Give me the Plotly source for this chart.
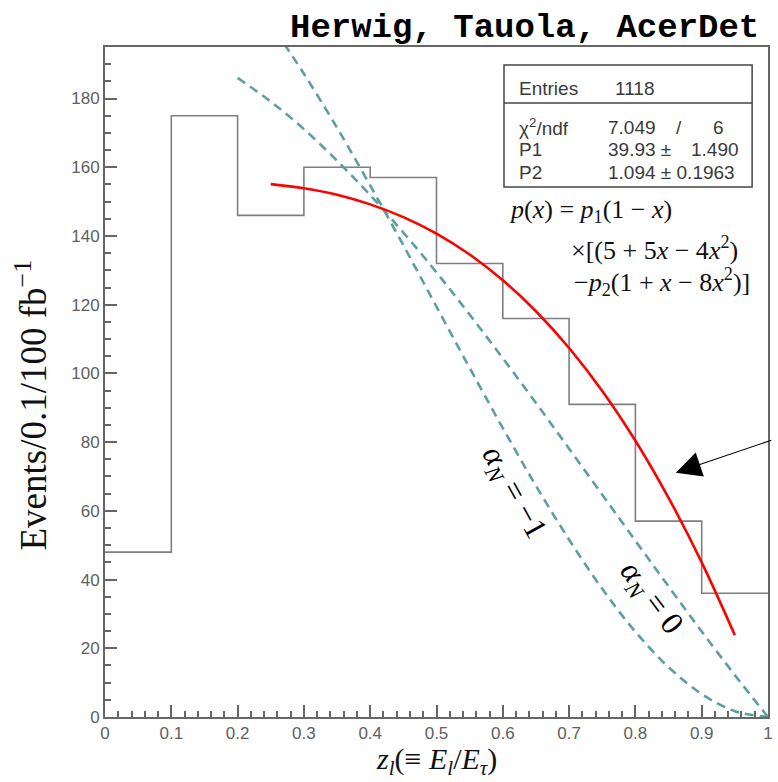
import plotly.graph_objects as go

# ---------------- data ----------------
bin_edges = [0.0, 0.1, 0.2, 0.3, 0.4, 0.5, 0.6, 0.7, 0.8, 0.9, 1.0]
counts = [48, 175, 146, 160, 157, 132, 116, 91, 57, 36]

fit_x = [0.25, 0.30, 0.35, 0.40, 0.45, 0.50, 0.55, 0.60, 0.65, 0.70, 0.75, 0.80, 0.85, 0.90, 0.95]
fit_y = [155.1, 153.9, 152.0, 149.2, 145.5, 140.7, 134.6, 127.1, 118.1, 107.4, 94.9, 80.4, 63.8, 45.0, 23.8]

a0_x = [0.20, 0.25, 0.30, 0.35, 0.40, 0.45, 0.50, 0.55, 0.60, 0.65, 0.70, 0.75, 0.80, 0.85, 0.90, 0.95, 1.00]
a0_y = [186.0, 179.1, 171.1, 161.9, 151.9, 141.0, 129.4, 117.1, 104.4, 91.4, 78.1, 64.7, 51.3, 38.0, 24.9, 12.2, 0.0]

am1_x = [0.27, 0.30, 0.35, 0.40, 0.45, 0.50, 0.55, 0.60, 0.65, 0.70, 0.75, 0.80, 0.85, 0.90, 0.95, 1.00]
am1_y = [196.0, 187.2, 171.5, 154.7, 137.3, 119.4, 101.6, 84.1, 67.3, 51.6, 37.3, 24.8, 14.5, 6.7, 1.7, 0.0]

x_ticks = [0, 0.1, 0.2, 0.3, 0.4, 0.5, 0.6, 0.7, 0.8, 0.9, 1]
y_ticks = [0, 20, 40, 60, 80, 100, 120, 140, 160, 180]

stats_labels = ["Entries", "χ<sup>2</sup>/ndf", "P1", "P2"]
entries = "1118"
chi2, ndf = "7.049", "6"
p1_val, p1_err = "39.93 ±", "1.490"
p2_val = "1.094 ± 0.1963"

# ---------------- figure ----------------
GRAY = "#7f7f7f"
TEAL = "#5f9ea0"
SERIF = "Liberation Serif, Times New Roman, serif"
SANS = "Liberation Sans, Arial, sans-serif"

fig = go.Figure()

fig.add_trace(go.Scatter(
    x=bin_edges, y=counts + [counts[-1]], mode="lines",
    line=dict(color=GRAY, width=1.6, shape="hv"), hoverinfo="skip"))

fig.add_trace(go.Scatter(
    x=a0_x, y=a0_y, mode="lines",
    line=dict(color=TEAL, width=2.6, dash="9px,6px", shape="spline")))
fig.add_trace(go.Scatter(
    x=am1_x, y=am1_y, mode="lines",
    line=dict(color=TEAL, width=2.6, dash="9px,6px", shape="spline")))

fig.add_trace(go.Scatter(
    x=fit_x, y=fit_y, mode="lines",
    line=dict(color="#ff0000", width=2.6, shape="spline")))

axis_common = dict(
    showgrid=False, zeroline=False, showline=True, linecolor="#666666", linewidth=2,
    mirror=True, ticks="inside", ticklen=12, tickwidth=1.5, tickcolor="#666666",
    tickfont=dict(family=SANS, size=17, color="#606060"),
)

fig.update_layout(
    width=778, height=782,
    margin=dict(l=105, r=5, t=47, b=65),
    paper_bgcolor="white", plot_bgcolor="white",
    showlegend=False,
    xaxis=dict(range=[0, 1], tickvals=x_ticks, ticktext=[str(t) for t in x_ticks],
               minor=dict(dtick=0.02, ticks="inside", ticklen=6, tickcolor="#666666", tickwidth=1.5),
               **axis_common),
    yaxis=dict(range=[0, 195], tickvals=y_ticks,
               minor=dict(dtick=5, ticks="inside", ticklen=6, tickcolor="#666666", tickwidth=1.5),
               **axis_common),
)

def px2paper(px, py):
    return (px - 105) / 668.0, (717 - py) / 670.0

annotations = []

# Title
annotations.append(dict(
    xref="paper", yref="paper", x=px2paper(766, 0)[0], y=px2paper(0, 28)[1],
    xanchor="right", yanchor="middle", showarrow=False,
    text="<b>Herwig, Tauola, AcerDet</b>",
    font=dict(family="Liberation Mono, Courier New, monospace", size=34, color="black")))

# Axis titles
annotations.append(dict(
    xref="paper", yref="paper", x=px2paper(30, 0)[0], y=px2paper(0, 405)[1],
    xanchor="center", yanchor="middle", showarrow=False, textangle=-90,
    text="Events/0.1/100 fb<sup>−1</sup>",
    font=dict(family=SERIF, size=37, color="#111111")))
annotations.append(dict(
    xref="paper", yref="paper", x=px2paper(439, 0)[0], y=px2paper(0, 761)[1],
    xanchor="center", yanchor="middle", showarrow=False,
    text="<i>z<sub>l</sub></i>(≡ <i>E<sub>l</sub></i>/<i>E<sub>τ</sub></i>)",
    font=dict(family=SERIF, size=30, color="#111111")))

# Stats box
bx0, by1 = px2paper(507, 65)
bx1, by0 = px2paper(757, 187)
_, ydiv = px2paper(0, 103)
shapes = [
    dict(type="rect", xref="paper", yref="paper", x0=bx0, x1=bx1, y0=by0, y1=by1,
         line=dict(color="#444444", width=1.5), fillcolor="white", layer="above"),
    dict(type="line", xref="paper", yref="paper", x0=bx0, x1=bx1, y0=ydiv, y1=ydiv,
         line=dict(color="#444444", width=1.5), layer="above"),
]
fig.update_layout(shapes=shapes)

sfont = dict(family=SANS, size=19, color="#3a3a3a")
rows_py = [88, 127, 149, 172]
for lab, py in zip(stats_labels, rows_py):
    x, y = px2paper(520, py)
    annotations.append(dict(xref="paper", yref="paper", x=x, y=y, xanchor="left", yanchor="middle",
                            showarrow=False, text=lab, font=sfont))
def add_txt(px, py, text, anchor="left"):
    x, y = px2paper(px, py)
    annotations.append(dict(xref="paper", yref="paper", x=x, y=y, xanchor=anchor, yanchor="middle",
                            showarrow=False, text=text, font=sfont))
add_txt(617, 88, entries)
add_txt(610, 127, chi2)
add_txt(683, 127, "/", "center")
add_txt(731, 127, ndf, "right")
add_txt(610, 149, p1_val)
add_txt(746, 149, p1_err, "right")
add_txt(610, 172, p2_val)

# Formula
ffont = dict(family=SERIF, size=26, color="#111111")
def add_f(px, py, text):
    x, y = px2paper(px, py)
    annotations.append(dict(xref="paper", yref="paper", x=x, y=y, xanchor="left", yanchor="middle",
                            showarrow=False, text=text, font=ffont))
add_f(510, 211, "<i>p</i>(<i>x</i>) = <i>p</i><sub>1</sub>(1 − <i>x</i>)")
add_f(573, 248, "×[(5 + 5<i>x</i> − 4<i>x</i><sup>2</sup>)")
add_f(576, 282, "−<i>p</i><sub>2</sub>(1 + <i>x</i> − 8<i>x</i><sup>2</sup>)]")

# Curve labels
annotations.append(dict(x=0.615, y=65.2, xref="x", yref="y", showarrow=False, textangle=61,
                        text="<i>α<sub>N</sub></i> = −1", font=dict(family=SERIF, size=32, color="black")))
annotations.append(dict(x=0.823, y=34.6, xref="x", yref="y", showarrow=False, textangle=53,
                        text="<i>α<sub>N</sub></i> = 0", font=dict(family=SERIF, size=32, color="black")))

# Arrow
annotations.append(dict(x=0.861, y=71.1, xref="x", yref="y", ax=97, ay=-33,
                        showarrow=True, text="", arrowhead=2, arrowsize=4.6, arrowwidth=1.1,
                        arrowcolor="black", standoff=0))

fig.update_layout(annotations=annotations)

fig.write_html("out.html")
